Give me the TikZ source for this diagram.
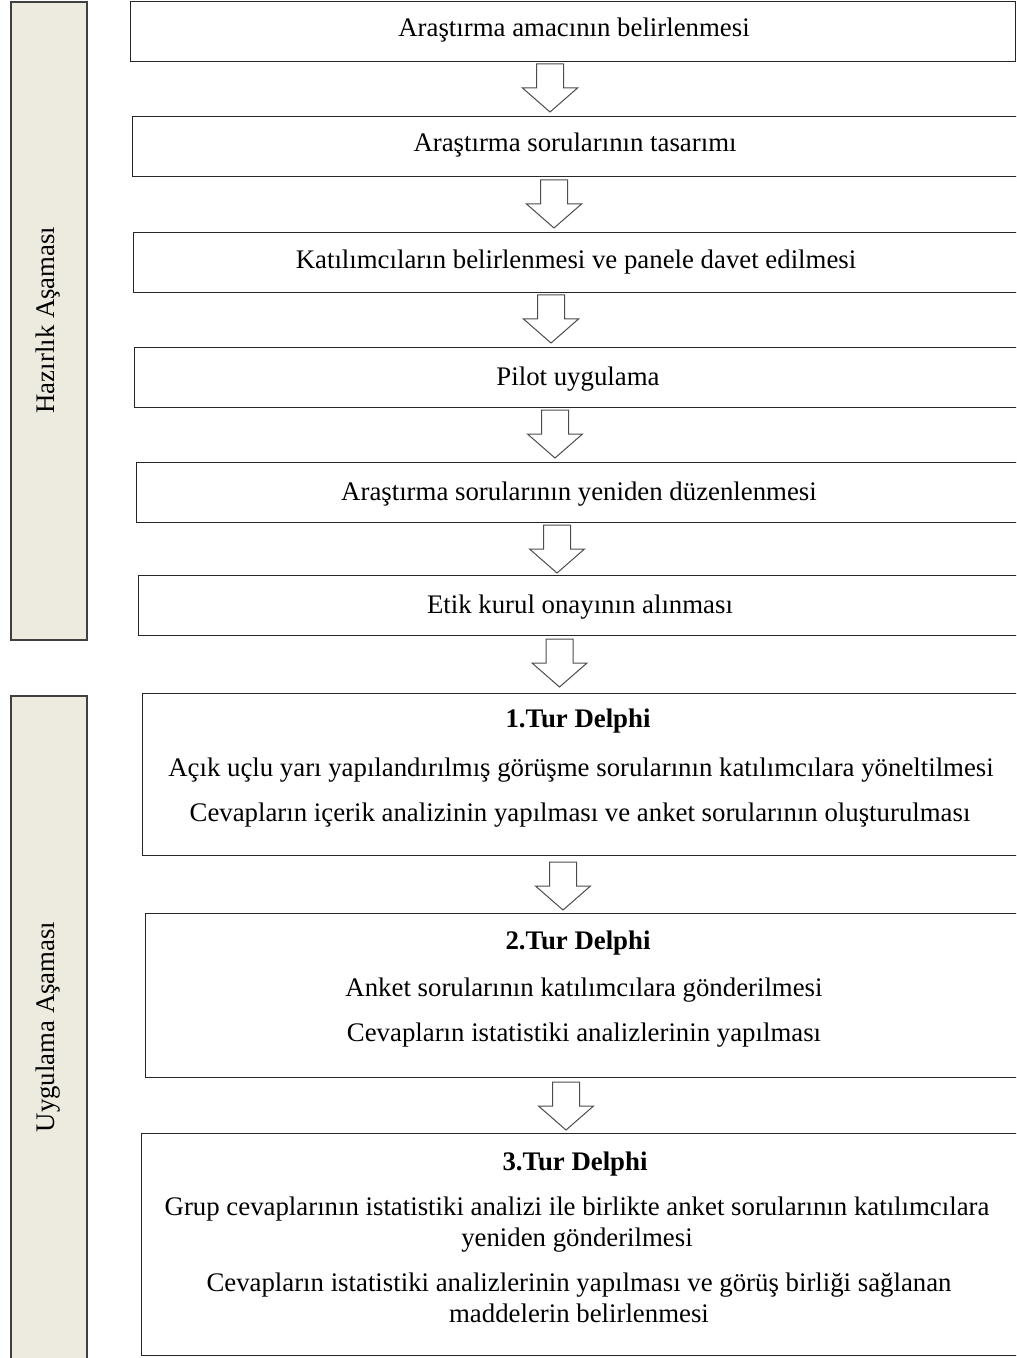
\documentclass[tikz,border=0pt]{standalone}
\usepackage{fontspec}
\setmainfont{Liberation Serif}
\definecolor{barfill}{HTML}{EDEAE0}

\begin{document}
\begin{tikzpicture}[x=0.5pt, y=-0.5pt,
	font=\fontsize{13.4}{15.5}\selectfont,
	stagebox/.style={draw=black!85, line width=0.7pt, fill=white, anchor=north west, inner sep=0pt},
	phasebar/.style={draw=black!75, line width=0.8pt, fill=barfill, anchor=north west, inner sep=0pt, minimum width=38pt},
	boxtext/.style={anchor=base, inner sep=0pt, align=center},
	flow/.style={draw=black!70, line width=0.5pt, fill=white}]

\def\u{0.5pt}
\useasboundingbox (0,0) rectangle (1016,1358);
\clip (0,0) rectangle (1016,1358);

% phase bars
\node[phasebar, minimum height=638*\u] (hazirlik) at (10,1) {};
\node[rotate=90] (hazirlikL) at (48,320) {Hazırlık Aşaması};
\node[phasebar, minimum height=680*\u] (uygulama) at (10,695) {};
\node[rotate=90] (uygulamaL) at (48,1027) {Uygulama Aşaması};

% preparation steps
\node[stagebox, minimum width=885*\u, minimum height=60*\u] (b1) at (130,1) {};
\foreach \i/\x/\y in {2/132/116, 3/133/232, 4/134/347, 5/136/462, 6/138/575}{
	\node[stagebox, minimum width=890*\u, minimum height=60*\u] (b\i) at (\x,\y) {};
}
\node[boxtext] (t1) at (574,37) {Araştırma amacının belirlenmesi};
\node[boxtext] (t2) at (575,152) {Araştırma sorularının tasarımı};
\node[boxtext] (t3) at (576,269) {Katılımcıların belirlenmesi ve panele davet edilmesi};
\node[boxtext] (t4) at (578,386) {Pilot uygulama};
\node[boxtext] (t5) at (579,500) {Araştırma sorularının yeniden düzenlenmesi};
\node[boxtext] (t6) at (580,613) {Etik kurul onayının alınması};

% delphi rounds
\node[stagebox, minimum width=890*\u, minimum height=162*\u] (b7) at (142,693) {};
\node[boxtext, font=\fontsize{13.4}{15.5}\selectfont\bfseries] (r1) at (578,727) {1.Tur Delphi};
\node[boxtext] (r1a) at (581,776) {Açık uçlu yarı yapılandırılmış görüşme sorularının katılımcılara yöneltilmesi};
\node[boxtext] (r1b) at (580,821) {Cevapların içerik analizinin yapılması ve anket sorularının oluşturulması};

\node[stagebox, minimum width=890*\u, minimum height=164*\u] (b8) at (145,913) {};
\node[boxtext, font=\fontsize{13.4}{15.5}\selectfont\bfseries] (r2) at (578,949) {2.Tur Delphi};
\node[boxtext] (r2a) at (584,996) {Anket sorularının katılımcılara gönderilmesi};
\node[boxtext] (r2b) at (584,1041) {Cevapların istatistiki analizlerinin yapılması};

\node[stagebox, minimum width=890*\u, minimum height=222*\u] (b9) at (141,1133) {};
\node[boxtext, font=\fontsize{13.4}{15.5}\selectfont\bfseries] (r3) at (575,1170) {3.Tur Delphi};
\node[boxtext] (r3a) at (577,1246) {Grup cevaplarının istatistiki analizi ile birlikte anket sorularının katılımcılara\\yeniden gönderilmesi};
\node[boxtext] (r3b) at (579,1322) {Cevapların istatistiki analizlerinin yapılması ve görüş birliği sağlanan\\maddelerin belirlenmesi};

% block arrows
\foreach \cx/\ty in {550/64, 554/180, 551/295, 555/410, 557/525, 559.5/639, 563/862, 566/1082}{
	\draw[flow] (\cx-13.5,\ty) -- (\cx+13.5,\ty) -- (\cx+13.5,\ty+24) -- (\cx+27.5,\ty+24)
		-- (\cx,\ty+48) -- (\cx-27.5,\ty+24) -- (\cx-13.5,\ty+24) -- cycle;
}

\end{tikzpicture}
\end{document}
